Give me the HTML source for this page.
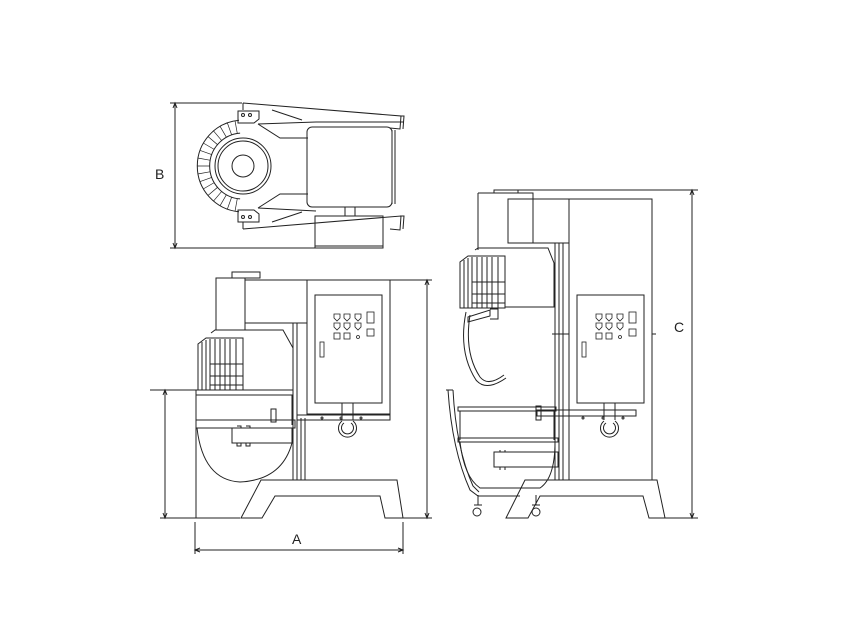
<!DOCTYPE html>
<html><head><style>body{margin:0;background:#fff}svg{display:block}</style></head>
<body>
<svg width="860" height="640" viewBox="0 0 860 640" xmlns="http://www.w3.org/2000/svg" fill="none" stroke="#222" stroke-width="1">
<defs>
<g id="panel">
  <rect x="0" y="0" width="67" height="108"/>
  <g stroke-width="0.8">
    <path d="M19 19h6v4l-3 3l-3-3z"/><path d="M29 19h6v4l-3 3l-3-3z"/><path d="M40 19h6v4l-3 3l-3-3z"/>
    <path d="M19 28h6v4l-3 3l-3-3z"/><path d="M29 28h6v4l-3 3l-3-3z"/><path d="M40 28h6v4l-3 3l-3-3z"/>
    <rect x="19" y="38" width="6" height="6"/><rect x="29" y="38" width="6" height="6"/><circle cx="43" cy="42" r="1.5"/>
    <rect x="52" y="17" width="7" height="11"/><rect x="52" y="34" width="7" height="7"/>
    <rect x="5" y="47" width="4" height="15"/>
  </g>
  <path d="M27 108v17M38 108v17"/>
  <path d="M27 126a9 9 0 1 0 11 0M29 128a6 6 0 1 0 7 0"/>
</g>
<g id="fan">
  <path d="M0 6l8-6h37v52H0z"/>
  <path d="M4 4v48M8 2v50M12 1v51M17 1v51M22 1v51M27 1v51M32 1v51M38 1v51"/>
  <path d="M12 26h33M12 38h33M12 47h33"/>
</g>
</defs>

<!-- ============ TOP VIEW ============ -->
<path d="M170 103h72M170 248h145M175 103v145"/>
<path d="M173 108l2-5l2 5M173 243l2 5l2-5"/>
<text x="155" y="179" font-family="Liberation Sans, sans-serif" font-size="14" fill="#222" stroke="none">B</text>
<path d="M243 103l158 13l-1 13l-10-1M243 103v7"/>
<path d="M243 229l158-13l-1 14l-10-1M243 229v-7"/>
<path d="M258 124l58-2h88M258 208l58 3"/>
<path d="M400 116l4 0l-1 13M400 216l4 0l-1 13"/>
<!-- ring -->
<path d="M239 120.2A46 46 0 0 0 239 211.8"/>
<path d="M240.1 133.1A33 33 0 0 0 240.1 198.9"/>
<g stroke-width="0.7">
<path d="M237.3 133.5L235 120.7M231.7 135L227.3 122.8M226.5 137.4L220 126.2M221.8 140.7L213.4 130.8M217.7 144.8L207.8 136.4M214.4 149.5L203.2 143M212 154.7L199.8 150.3M210.5 160.3L197.7 158M210 166H197M210.5 171.7L197.7 174M212 177.3L199.8 181.7M214.4 182.5L203.2 189M217.7 187.2L207.8 195.6M221.8 191.3L213.4 201.2M226.5 194.6L220 205.8M231.7 197L227.3 209.2M237.3 198.5L235 211.3"/>
</g>
<circle cx="243" cy="166" r="28"/>
<circle cx="243" cy="166" r="25"/>
<circle cx="243" cy="166" r="11"/>
<path d="M238 111h21v8l-5 4h-16zM238 222h21v-8l-5-4h-16z"/>
<circle cx="243" cy="115" r="1.5"/><circle cx="250" cy="115" r="1.5"/>
<circle cx="243" cy="217" r="1.5"/><circle cx="250" cy="217" r="1.5"/>
<path d="M258 124l22 14h28M258 208l22-14h28M272 110l30 10M272 222l30-10"/>
<rect x="307" y="127" width="85" height="80" rx="5"/>
<path d="M392 130v74M395 130v74"/>
<path d="M345 207v9M355 207v9"/>
<rect x="315" y="216" width="68" height="32"/>
<path d="M315 246h68"/>

<!-- ============ FRONT VIEW ============ -->
<rect x="232" y="272" width="28" height="6"/>
<path d="M216 278h29v52h-29z"/>
<rect x="245" y="280" width="62" height="43"/>
<rect x="307" y="280" width="83" height="134"/>
<use href="#panel" x="315" y="295"/>
<path d="M293 323v157M297 323v157M301 418v62M305 418v62"/>
<path d="M211 333l4-3h68l10 18v42H198"/>
<use href="#fan" x="198" y="338"/>
<path d="M196 390h97v5H196z"/>
<path d="M196 395v123M292 395v30"/>
<path d="M196 420h99v8H196z"/>
<path d="M297 415h93v5h-93z"/>
<rect x="271" y="409" width="5" height="13"/>
<circle cx="322" cy="418" r="1"/><circle cx="341" cy="418" r="1"/><circle cx="361" cy="418" r="1"/>
<rect x="232" y="428" width="60" height="15"/>
<path d="M237 426h4v2M246 426h4v2M237 443v3h4v-3M246 443v3h4v-3"/>
<path d="M197 428Q203 480 240 482Q282 480 292 443"/>
<path d="M261 480h136l6 38h-18l-5-22H275l-13 22h-21z"/>
<path d="M150 390h46M160 518h80M165 390v128M390 280h42M403 518h29M427 280v238"/>
<path d="M163 395l2-5l2 5M163 513l2 5l2-5M425 285l2-5l2 5M425 513l2 5l2-5"/>
<path d="M195 522v32M403 522v32M195 550h208M200 548l-5 2l5 2M398 548l5 2l-5 2"/>
<text x="292" y="544" font-family="Liberation Sans, sans-serif" font-size="14" fill="#222" stroke="none">A</text>

<!-- ============ SIDE VIEW ============ -->
<rect x="494" y="190" width="24" height="3"/>
<path d="M478 193h55v50"/><path d="M478 193v57"/>
<rect x="508" y="199" width="61" height="44"/>
<rect x="569" y="199" width="83" height="281"/>
<use href="#panel" x="577" y="295"/>
<path d="M555 243v237M559 243v237M563 243v237M552 334h17M652 334h4"/>
<path d="M475 250l3-2h70l6 15v44h-49"/>
<use href="#fan" x="460" y="256"/>
<path d="M460 308h45"/>
<path d="M468 317l22-7v6l-22 6zM490 309h8v10h-8"/>
<path d="M466 312q-8 40 10 68q10 12 30-2M470 315q-6 38 10 62q8 10 24-2"/>
<path d="M458 407h98v4h-98zM460 411v29M554 411v29"/>
<path d="M458 438h100v4H458z"/>
<path d="M537 410h99v6h-99z"/><rect x="536" y="406" width="5" height="14"/>
<circle cx="583" cy="418" r="1"/><circle cx="603" cy="418" r="1"/><circle cx="623" cy="418" r="1"/>
<rect x="494" y="452" width="64" height="15"/>
<path d="M500 450v2M505 450v2M500 467v3M505 467v3"/>
<path d="M460 442q4 35 20 46h60q15-10 15-46"/>
<path d="M448 390q4 60 22 100l8 6h42M453 390q3 58 20 96l6 6"/>
<path d="M446 390h7"/>
<path d="M478 495v10M536 495v10M474 505h8M532 505h8"/>
<circle cx="477" cy="512" r="4"/><circle cx="536" cy="512" r="4"/>
<path d="M525 480h132l8 38h-16l-6-22H540l-12 22h-22z"/>
<path d="M518 190h180M652 518h46M692 190v328M690 195l2-5l2 5M690 513l2 5l2-5"/>
<text x="674" y="332" font-family="Liberation Sans, sans-serif" font-size="14" fill="#222" stroke="none">C</text>
</svg>
</body></html>
